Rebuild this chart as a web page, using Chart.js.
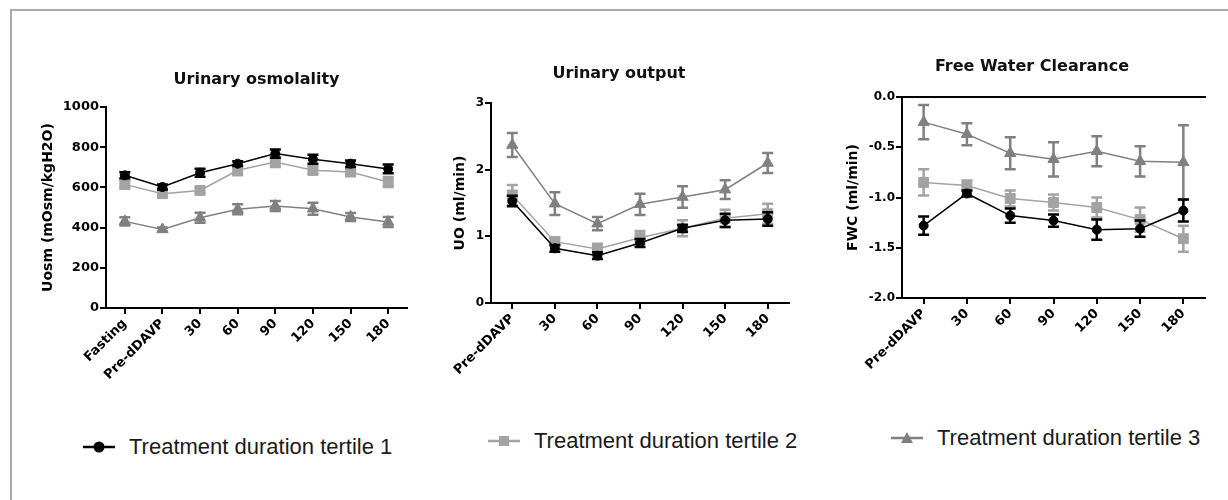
<!DOCTYPE html>
<html><head><meta charset="utf-8">
<script src="https://cdn.jsdelivr.net/npm/chart.js@4"></script>
<style>
html,body{margin:0;padding:0;background:#fff;overflow:hidden;width:1228px;height:500px;}
#frame{position:absolute;left:10px;top:9px;width:1400px;height:700px;border-top:2px solid #aaa;border-left:2px solid #aaa;}
.panel{position:absolute;top:30px;height:360px;}
.legend{position:absolute;height:26px;font-family:"Liberation Sans",Arial,sans-serif;font-size:22px;color:#1a1a1a;display:flex;align-items:center;white-space:nowrap;}
.legend span{margin-left:14px;}
</style></head>
<body>
<div id="frame"></div>
<div class="panel" style="left:20px;width:395px"><canvas id="c1"></canvas></div>
<div class="panel" style="left:430px;width:370px"><canvas id="c2"></canvas></div>
<div class="panel" style="left:830px;width:390px"><canvas id="c3"></canvas></div>

<div class="legend" style="left:83px;top:434px"><svg width="32" height="14"><line x1="0" y1="7" x2="32" y2="7" stroke="#000" stroke-width="2.5"/><circle cx="16" cy="7" r="5.5" fill="#000"/></svg><span>Treatment duration tertile 1</span></div>
<div class="legend" style="left:488px;top:428px"><svg width="32" height="14"><line x1="0" y1="7" x2="32" y2="7" stroke="#a3a3a3" stroke-width="2.5"/><rect x="11" y="2" width="10" height="10" fill="#a3a3a3"/></svg><span>Treatment duration tertile 2</span></div>
<div class="legend" style="left:891px;top:425px"><svg width="32" height="14"><line x1="0" y1="7" x2="32" y2="7" stroke="#808080" stroke-width="2.5"/><polygon points="16,1 22,12 10,12" fill="#808080"/></svg><span>Treatment duration tertile 3</span></div>

<script>
// ---- categories ----
const osmCategories = ['Fasting','Pre-dDAVP','30','60','90','120','150','180'];
const timeCategories = ['Pre-dDAVP','30','60','90','120','150','180'];
const seriesNames = ['Treatment duration tertile 1','Treatment duration tertile 2','Treatment duration tertile 3'];

// ---- Urinary osmolality (mOsm/kgH2O) ----
const osmT1 = [660,602,673,718,768,740,718,692];
const osmT1Err = [15,12,20,12,20,22,16,22];
const osmT2 = [615,569,585,685,726,685,677,627];
const osmT2Err = [20,18,15,25,25,20,20,25];
const osmT3 = [431,391,449,491,507,494,453,428];
const osmT3Err = [20,10,25,25,25,30,20,25];

// ---- Urinary output (ml/min) ----
const uoT1 = [1.53,0.82,0.71,0.90,1.12,1.24,1.26];
const uoT1Err = [0.08,0.05,0.05,0.06,0.05,0.10,0.10];
const uoT2 = [1.62,0.92,0.81,0.98,1.12,1.27,1.34];
const uoT2Err = [0.15,0.06,0.08,0.10,0.12,0.13,0.15];
const uoT3 = [2.37,1.49,1.19,1.48,1.59,1.70,2.10];
const uoT3Err = [0.18,0.17,0.10,0.16,0.16,0.14,0.15];

// ---- Free water clearance (ml/min) ----
const fwcT1 = [-1.28,-0.96,-1.18,-1.23,-1.32,-1.31,-1.13];
const fwcT1Err = [0.09,0.03,0.07,0.06,0.10,0.08,0.11];
const fwcT2 = [-0.85,-0.88,-1.01,-1.05,-1.10,-1.22,-1.41];
const fwcT2Err = [0.13,0.05,0.08,0.08,0.10,0.12,0.13];
const fwcT3 = [-0.25,-0.37,-0.56,-0.62,-0.54,-0.64,-0.65];
const fwcT3Err = [0.17,0.11,0.16,0.17,0.15,0.15,0.37];

const colors = ['#000000','#a3a3a3','#808080'];
const styles = ['circle','rect','triangle'];
const radii = [4.5,7,6.5];

const errorBars = {
  id:'errorBars',
  beforeDatasetDraw(chart, args){
    const ds = chart.data.datasets[args.index];
    if(!ds.errors) return;
    const y = chart.scales.y, ctx = chart.ctx;
    ctx.save();
    ctx.strokeStyle = ds.borderColor;
    ctx.lineWidth = 2.5;
    args.meta.data.forEach((pt,i)=>{
      const v = ds.data[i], e = ds.errors[i];
      const x = pt.x, yt = y.getPixelForValue(v+e), yb = y.getPixelForValue(v-e);
      ctx.beginPath();
      ctx.moveTo(x,yt); ctx.lineTo(x,yb);
      ctx.moveTo(x-5.5,yt); ctx.lineTo(x+5.5,yt);
      ctx.moveTo(x-5.5,yb); ctx.lineTo(x+5.5,yb);
      ctx.stroke();
    });
    ctx.restore();
  }
};

function ds(i, data, errs){
  return {label:seriesNames[i], data, errors:errs, borderColor:colors[i], backgroundColor:colors[i],
    pointBackgroundColor:colors[i], pointBorderColor:colors[i], pointBorderWidth:1,
    pointStyle:styles[i], pointRadius:radii[i], borderWidth:1.5, tension:0};
}

const xFont = {family:'DejaVu Sans', weight:'bold', size:13};
function makeChart(id, o){
  const scales = {
    x:{type:'category', offset:true,
      ticks:{autoSkip:false, minRotation:45, maxRotation:45, font:xFont, color:'#000', padding:2},
      grid:{display:true, drawOnChartArea:false, drawTicks:true, tickLength:6, color:'#000', lineWidth:2},
      border:{display:true, color:'#000', width:2},
      afterFit(s){ s.height = o.xH; }},
    y:{min:o.min, max:o.max,
      ticks:{stepSize:o.step, font:{family:'DejaVu Sans', weight:'bold', size:o.yFont}, color:'#000', padding:1, callback:o.fmt},
      grid:{display:true, drawOnChartArea:false, drawTicks:true, tickLength:6, color:'#000', lineWidth:2},
      border:{display:true, color:'#000', width:2},
      title:{display:true, text:o.yTitle, color:'#000', font:{family:'DejaVu Sans', weight:'bold', size:14}, padding:{top:o.yTitlePad, bottom:0}},
      afterFit(s){ s.width = o.yW; }}
  };
  if(o.topLine){
    scales.x2 = {type:'category', position:'top', offset:true,
      ticks:{display:false}, grid:{display:false},
      border:{display:true, color:'#000', width:2},
      afterFit(s){ s.height = 0; }};
  }
  return new Chart(document.getElementById(id), {
    type:'line',
    data:{labels:o.labels, datasets:o.datasets},
    options:{
      responsive:true, maintainAspectRatio:false, animation:false,
      layout:{padding:{left:o.padL, right:o.padR, top:0, bottom:0}},
      plugins:{
        legend:{display:false}, tooltip:{enabled:false},
        title:{display:true, text:o.title, color:'#111', fullSize:o.fullSize,
          font:{family:'DejaVu Sans', weight:'bold', size:16},
          padding:{top:o.tTop, bottom:o.tBot}}
      },
      scales
    },
    plugins:[errorBars]
  });
}

makeChart('c1', {
  labels:osmCategories, title:'Urinary osmolality', yTitle:'Uosm (mOsm/kgH2O)',
  min:0, max:1000, step:200, fmt:v=>String(v), yFont:13,
  datasets:[ds(0,osmT1,osmT1Err), ds(1,osmT2,osmT2Err), ds(2,osmT3,osmT3Err)],
  padL:0, padR:8, yW:86, yTitlePad:19.6, xH:82, tTop:40, tBot:17.8, fullSize:false
});
makeChart('c2', {
  labels:timeCategories, title:'Urinary output', yTitle:'UO (ml/min)',
  min:0, max:3, step:1, fmt:v=>String(v), yFont:12,
  datasets:[ds(0,uoT1,uoT1Err), ds(1,uoT2,uoT2Err), ds(2,uoT3,uoT3Err)],
  padL:19, padR:11, yW:42, yTitlePad:2.6, xH:87, tTop:34, tBot:19.8, fullSize:true
});
makeChart('c3', {
  labels:timeCategories, title:'Free Water Clearance', yTitle:'FWC (ml/min)',
  min:-2, max:0, step:0.5, fmt:v=>Number(v).toFixed(1), yFont:12,
  datasets:[ds(0,fwcT1,fwcT1Err), ds(1,fwcT2,fwcT2Err), ds(2,fwcT3,fwcT3Err)],
  padL:29, padR:15, yW:43, yTitlePad:-14.4, xH:92, tTop:27, tBot:20.8, fullSize:true, topLine:true
});
</script>
</body></html>
